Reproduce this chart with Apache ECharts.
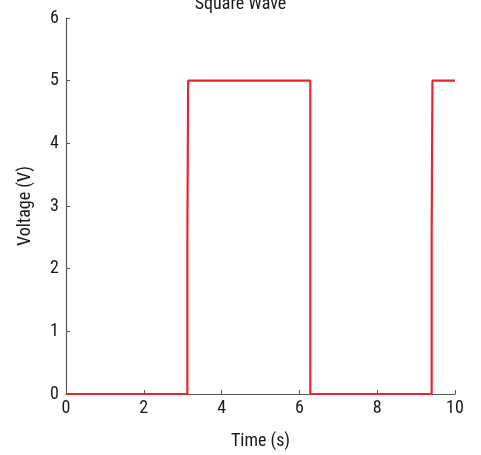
<!DOCTYPE html>
<html>
<head>
<meta charset="utf-8">
<script src="https://cdn.jsdelivr.net/npm/echarts@6/dist/echarts.min.js"></script>
<style>
  html, body { margin: 0; padding: 0; background: #fff; }
  #main { width: 481px; height: 455px; }
</style>
</head>
<body>
<div id="main"></div>
<script>
// square wave samples (time in s, voltage in V)
var timeVals = [0, 3.12, 3.12, 3.14, 3.14, 6.28, 6.28, 9.40, 9.40, 9.42, 9.42, 10];
var voltVals = [0, 0, 2.5, 2.5, 5, 5, 0, 0, 2.5, 2.5, 5, 5];
var xTicks = [0, 2, 4, 6, 8, 10];
var yTicks = [0, 1, 2, 3, 4, 5, 6];

var font = "'Liberation Sans Narrow', 'Roboto Condensed', 'Liberation Sans', sans-serif";
var axisColor = '#555';
var textColor = '#1a1a1a';

var points = timeVals.map(function (t, i) { return [t, voltVals[i]]; });

var chart = echarts.init(document.getElementById('main'));

var option = {
    animation: false,
    title: {
        text: 'Square Wave',
        left: 'center',
        top: -10,
        textStyle: {
            fontFamily: font,
            fontSize: 18,
            fontWeight: 'normal',
            color: textColor
        }
    },
    grid: {
        left: 66,
        right: 26,
        top: 18,
        bottom: 61
    },
    xAxis: {
        type: 'value',
        min: xTicks[0],
        max: xTicks[xTicks.length - 1],
        interval: 2,
        name: 'Time (s)',
        nameLocation: 'middle',
        nameGap: 38,
        nameTextStyle: { fontFamily: font, fontSize: 18, color: textColor },
        axisLine: { show: true, lineStyle: { color: axisColor, width: 1.2 } },
        axisTick: { show: true, inside: true, length: 4, lineStyle: { color: axisColor } },
        axisLabel: { fontFamily: font, fontSize: 18, color: textColor, margin: 5 },
        splitLine: { show: false }
    },
    yAxis: {
        type: 'value',
        min: yTicks[0],
        max: yTicks[yTicks.length - 1],
        interval: 1,
        name: 'Voltage (V)',
        nameLocation: 'middle',
        nameGap: 32,
        nameTextStyle: { fontFamily: font, fontSize: 18, color: textColor },
        axisLine: { show: true, lineStyle: { color: axisColor, width: 1.2 } },
        axisTick: { show: true, inside: true, length: 4, lineStyle: { color: axisColor } },
        axisLabel: { fontFamily: font, fontSize: 18, color: textColor, margin: 7 },
        splitLine: { show: false }
    },
    series: [{
        type: 'line',
        data: points,
        showSymbol: false,
        symbol: 'none',
        lineStyle: { color: '#e8252b', width: 2.2 },
        itemStyle: { color: '#e8252b' }
    }]
};

chart.setOption(option);
</script>
</body>
</html>
